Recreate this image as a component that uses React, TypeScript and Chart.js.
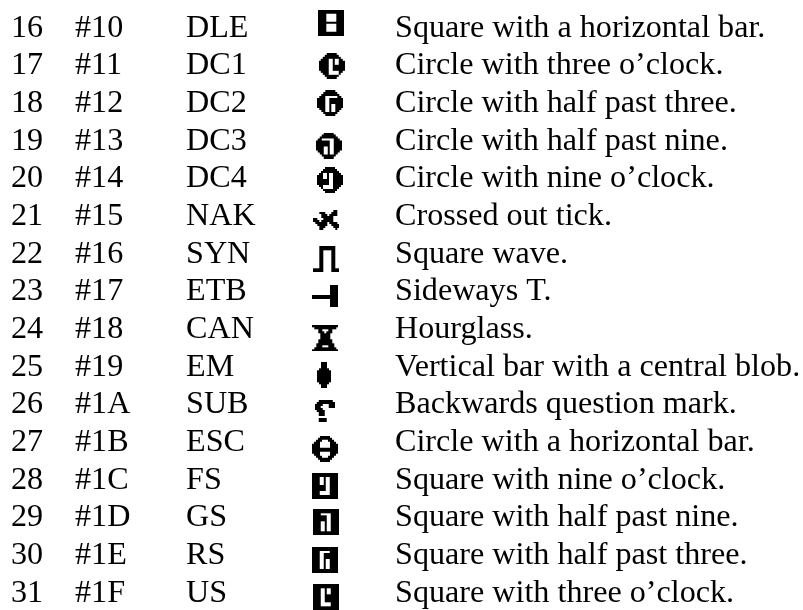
import React, { useEffect, useRef } from "react";
import { Chart, registerables } from "chart.js";

Chart.register(...registerables);

const codes = ["16","17","18","19","20","21","22","23","24","25","26","27","28","29","30","31"];
const hexes = ["#10","#11","#12","#13","#14","#15","#16","#17","#18","#19","#1A","#1B","#1C","#1D","#1E","#1F"];
const names = ["DLE","DC1","DC2","DC3","DC4","NAK","SYN","ETB","CAN","EM","SUB","ESC","FS","GS","RS","US"];
const descriptions = [
  "Square with a horizontal bar.",
  "Circle with three o’clock.",
  "Circle with half past three.",
  "Circle with half past nine.",
  "Circle with nine o’clock.",
  "Crossed out tick.",
  "Square wave.",
  "Sideways T.",
  "Hourglass.",
  "Vertical bar with a central blob.",
  "Backwards question mark.",
  "Circle with a horizontal bar.",
  "Square with nine o’clock.",
  "Square with half past nine.",
  "Square with half past three.",
  "Square with three o’clock.",
];
const iconX = [331.3,331.7,330.3,328.7,330,326.3,326.3,325,325.3,324,324.7,325,324.7,325.7,324.7,325.7];
const iconY = [22.7,65.8,103,145.5,180,220,259.3,296,338.3,375.3,411,448.7,486,522.3,560,597.3];

const F = "#############";
const glyphs: string[][] = [
  [F,F,"####.....####","####.....####","####.....####","####.....####",F,"####.....####","####.....####","####.....####","####.....####",F,F],
  ["....#####....","...#######...","..#########..",".####..#..##.","#####..#..###","#####..#..###","#####..######","#####..######","#####..######",".####.....##.","..###.....#..","...#######...","....#####...."],
  ["....#####....","...#######...","..#########..",".###......##.","####..#######","####..#######","####..#######","####..#..####","####..#..####",".###..#..###.","..##..#..##..","...#######...","....#####...."],
  ["....#####....","...#######...","..#########..",".##......###.","#######..####","#######..####","#######..####","####..#..####","####..#..####",".###..#..###.","..##..#..##..","...#######...","....#####...."],
  ["....#####....","...#######...","..#########..",".##..#..####.","###..#..#####","###..#..#####","######..#####","######..#####","######..#####",".##.....####.","..#.....###..","...#######...","....#####...."],
  ["..........##.","...###...###.","....###.####.","....######...","##...#####...","###.######...",".######.####.","..#####..####","...###....###","...##......#."],
  ["...########..","...########..","...##....##..","...##....##..","...##....##..","...##....##..","...##....##..","...##....##..","...##....##..","...##....##..","...##....##..","#####....####","#####....####"],
  [".........####",".........####",".........####",".........####",".........####",F,F,".........####",".........####",".........####",".........####"],
  [F,".###########.","...##...##...","...###.###...","....#####....","....#####....","....#####....","...#######...","...#######...","..#########..","..###...###..",".###########.",F],
  ["..###..","..###..","..###..",".#####.","#######","#######","#######","#######","#######","#######",".#####.","..###..","..###.."],
  ["..#######.",".#########","####...###","###....###","####......",".####.....","..###.....","..###.....","..........","..####....","..####...."],
  ["....#####....","...#######...","..###...###..",".###.....###.","####.....####","####.....####",F,F,"####.....####",".###.....###.","..###...###..","...#######...","....#####...."],
  [F,F,"####..#..####","####..#..####","####..#..####","####..#..####","#######..####","#######..####","#######..####","####.....####","####.....####",F,F],
  [F,F,"####.....####","#######..####","#######..####","#######..####","####..#..####","####..#..####","####..#..####","####..#..####","####..#..####",F,F],
  [F,F,"####.....####","####..#######","####..#######","####..#######","####..#..####","####..#..####","####..#..####","####..#..####","####..#..####",F,F],
  [F,F,"####..#..####","####..#..####","####..#..####","####..#######","####..#######","####..#######","####..#######","####.....####","####.....####",F,F],
];

const COLUMN_X = [11, 75, 186, 395];
const FIRST_BASELINE = 36.7;
const ROW_PITCH = 37.67;
const FONT = '32.15px "Liberation Serif"';

function glyphCanvas(rows: string[]): HTMLCanvasElement {
  const cell = 2;
  const w = rows[0].length * cell;
  const h = rows.length * cell;
  const raw = document.createElement("canvas");
  raw.width = w;
  raw.height = h;
  const rc = raw.getContext("2d")!;
  rc.fillStyle = "#000";
  rows.forEach((r, y) => {
    [...r].forEach((c, x) => {
      if (c === "#") rc.fillRect(x * cell, y * cell, cell, cell);
    });
  });
  const soft = document.createElement("canvas");
  soft.width = w;
  soft.height = h;
  const sc = soft.getContext("2d")!;
  sc.filter = "blur(0.5px)";
  sc.drawImage(raw, 0, 0);
  return soft;
}

const tableText = {
  id: "tableText",
  afterDatasetsDraw(chart: any) {
    const { ctx, scales } = chart;
    ctx.save();
    ctx.font = FONT;
    ctx.fillStyle = "#000";
    ctx.textBaseline = "alphabetic";
    ctx.textAlign = "left";
    [codes, hexes, names, descriptions].forEach((col, c) => {
      col.forEach((text, i) => {
        ctx.fillText(
          text,
          scales.x.getPixelForValue(COLUMN_X[c]),
          scales.y.getPixelForValue(FIRST_BASELINE + i * ROW_PITCH)
        );
      });
    });
    ctx.restore();
  },
};

export default function App() {
  const ref = useRef<HTMLCanvasElement>(null);
  useEffect(() => {
    const chart = new Chart(ref.current!, {
      type: "scatter",
      data: {
        datasets: [
          {
            label: "Glyphs",
            data: iconX.map((x, i) => ({ x, y: iconY[i] })),
            pointStyle: glyphs.map(glyphCanvas) as any,
            pointRadius: 10,
            backgroundColor: "#000",
            clip: false,
          },
        ],
      },
      options: {
        responsive: false,
        animation: false,
        layout: { padding: 0, autoPadding: false },
        plugins: { legend: { display: false }, tooltip: { enabled: false }, title: { display: false } },
        scales: {
          x: { type: "linear", display: false, min: 0, max: 803 },
          y: { type: "linear", display: false, min: 0, max: 610, reverse: true },
        },
      },
      plugins: [tableText],
    });
    return () => chart.destroy();
  }, []);
  return (
    <div style={{ position: "absolute", left: 0, top: 0, width: 803, height: 610, background: "#fff" }}>
      <canvas ref={ref} width={803} height={610} style={{ display: "block" }} />
    </div>
  );
}
